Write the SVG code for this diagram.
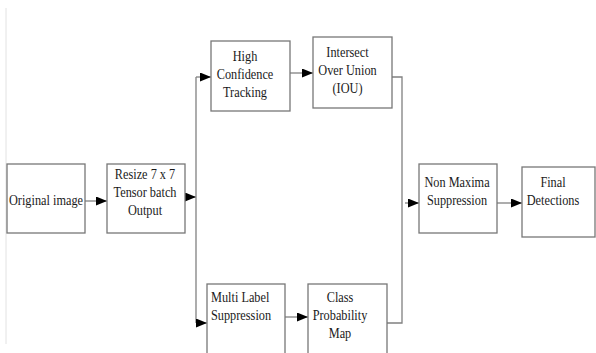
<svg xmlns="http://www.w3.org/2000/svg" width="596" height="353" viewBox="0 0 596 353">
<defs>
<style>
.box{fill:#fff;stroke:#777;stroke-width:1.3}
.ln{fill:none;stroke:#808080;stroke-width:1.3}
.t{font-family:"Liberation Serif","Times New Roman",serif;font-size:15px;fill:#1a1a1a}
</style>
<marker id="ah" markerUnits="userSpaceOnUse" markerWidth="11" markerHeight="9" refX="11" refY="4.5" orient="auto">
<path d="M0,0 L11,4.5 L0,9 Z" fill="#000"/>
</marker>
</defs>
<rect width="596" height="353" fill="#fff"/>
<line x1="6" y1="8" x2="6" y2="344" stroke="#e2e2e2" stroke-width="1"/>
<g id="connectors">
<line class="ln" x1="85" y1="201" x2="107" y2="201" marker-end="url(#ah)"/>
<line class="ln" x1="186" y1="197" x2="196" y2="197" marker-end="url(#ah)"/>
<line class="ln" x1="196" y1="77" x2="196" y2="323"/>
<line class="ln" x1="196" y1="77" x2="211" y2="77" marker-end="url(#ah)"/>
<line class="ln" x1="196" y1="323" x2="207" y2="323" marker-end="url(#ah)"/>
<line class="ln" x1="290" y1="73" x2="313" y2="73" marker-end="url(#ah)"/>
<line class="ln" x1="285" y1="317" x2="308" y2="317" marker-end="url(#ah)"/>
<polyline class="ln" points="392,77 402,77 402,323 387,323"/>
<line class="ln" x1="405" y1="203" x2="419" y2="203" marker-end="url(#ah)"/>
<line class="ln" x1="497" y1="203" x2="522" y2="203" marker-end="url(#ah)"/>
</g>
<g id="original">
<rect class="box" x="7" y="164" width="78" height="69"/>
<text class="t" text-anchor="middle" transform="translate(46 0) scale(0.82 1)"><tspan x="0" y="205">Original image</tspan></text>
</g>
<g id="resize">
<rect class="box" x="107" y="164" width="78" height="69"/>
<text class="t" text-anchor="middle" transform="translate(145 0) scale(0.82 1)"><tspan x="0" y="179">Resize 7 x 7</tspan><tspan x="0" y="197">Tensor batch</tspan><tspan x="0" y="215">Output</tspan></text>
</g>
<g id="high-confidence">
<rect class="box" x="211" y="41" width="79" height="70"/>
<text class="t" text-anchor="middle" transform="translate(245 0) scale(0.82 1)"><tspan x="0" y="61">High</tspan><tspan x="0" y="79">Confidence</tspan><tspan x="0" y="97">Tracking</tspan></text>
</g>
<g id="iou">
<rect class="box" x="313" y="37" width="79" height="71"/>
<text class="t" text-anchor="middle" transform="translate(347.5 0) scale(0.82 1)"><tspan x="0" y="57">Intersect</tspan><tspan x="0" y="75">Over Union</tspan><tspan x="0" y="93">(IOU)</tspan></text>
</g>
<g id="multi-label">
<rect class="box" x="207" y="284" width="78" height="80"/>
<text class="t" text-anchor="start" transform="translate(211 0) scale(0.82 1)"><tspan x="0" y="302">Multi Label</tspan><tspan x="0" y="320">Suppression</tspan></text>
</g>
<g id="class-prob">
<rect class="box" x="308" y="284" width="79" height="80"/>
<text class="t" text-anchor="middle" transform="translate(340 0) scale(0.82 1)"><tspan x="0" y="302">Class</tspan><tspan x="0" y="320">Probability</tspan><tspan x="0" y="338">Map</tspan></text>
</g>
<g id="nms">
<rect class="box" x="419" y="164" width="78" height="69"/>
<text class="t" text-anchor="middle" transform="translate(457 0) scale(0.82 1)"><tspan x="0" y="187">Non Maxima</tspan><tspan x="0" y="205">Suppression</tspan></text>
</g>
<g id="final">
<rect class="box" x="522" y="167" width="73" height="70"/>
<text class="t" text-anchor="middle" transform="translate(553 0) scale(0.82 1)"><tspan x="0" y="187">Final</tspan><tspan x="0" y="205">Detections</tspan></text>
</g>
</svg>
